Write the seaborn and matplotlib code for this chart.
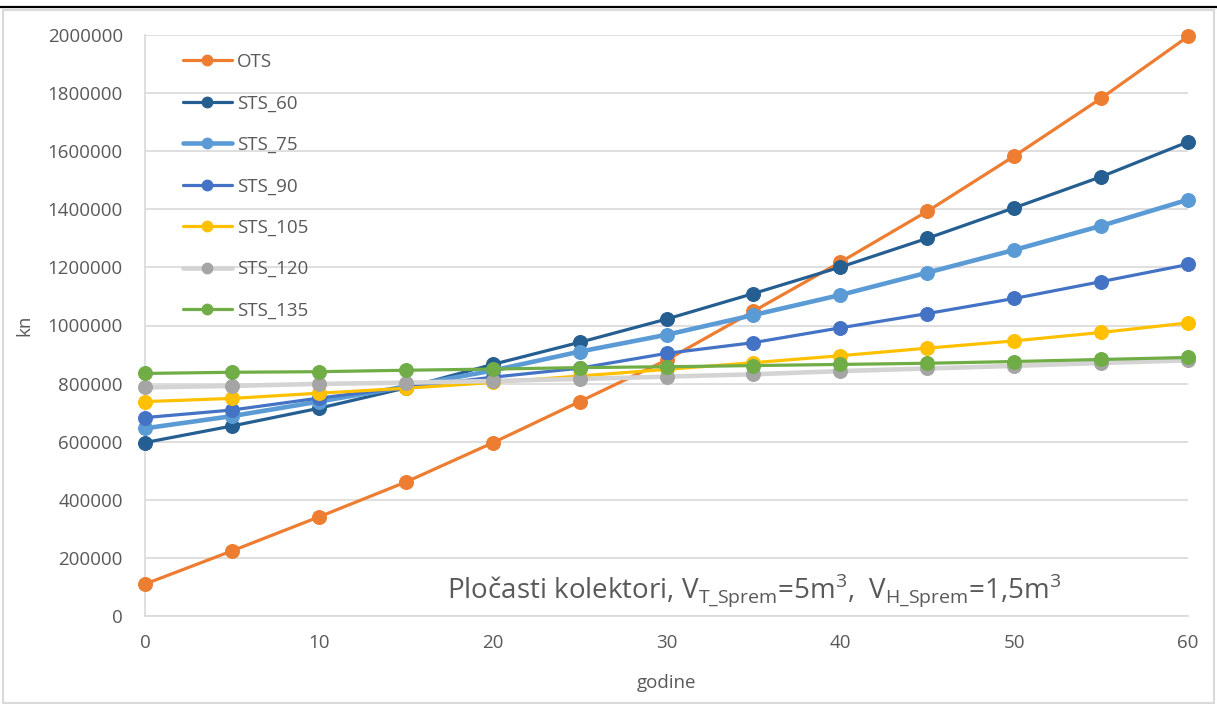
import matplotlib
matplotlib.use("Agg")
import matplotlib.pyplot as plt
import seaborn as sns
import pandas as pd
from matplotlib.patches import Rectangle
from matplotlib.lines import Line2D

years = [0, 5, 10, 15, 20, 25, 30, 35, 40, 45, 50, 55, 60]
ots = [110000, 224000, 341000, 461000, 596000, 738000, 881000, 1049000, 1218000, 1393000, 1583000, 1782000, 1995000]
sts_60 = [597000, 654000, 715000, 785000, 866000, 942000, 1022000, 1110000, 1201000, 1300000, 1405000, 1512000, 1632000]
sts_75 = [646000, 688000, 738000, 790000, 845000, 910000, 968000, 1036000, 1105000, 1182000, 1260000, 1343000, 1433000]
sts_90 = [683000, 709000, 750000, 787000, 822000, 853000, 904000, 941000, 992000, 1041000, 1093000, 1151000, 1210000]
sts_105 = [738000, 749000, 767000, 784000, 804000, 826000, 849000, 872000, 896000, 922000, 947000, 976000, 1009000]
sts_120 = [787000, 792000, 799000, 803000, 809000, 816000, 824000, 832000, 843000, 852000, 861000, 871000, 880000]
sts_135 = [835000, 839000, 841000, 846000, 850000, 855000, 858000, 862000, 866000, 870000, 876000, 883000, 890000]

series_names = ["OTS", "STS_60", "STS_75", "STS_90", "STS_105", "STS_120", "STS_135"]
series_values = [ots, sts_60, sts_75, sts_90, sts_105, sts_120, sts_135]
y_ticks = [0, 200000, 400000, 600000, 800000, 1000000, 1200000, 1400000, 1600000, 1800000, 2000000]
x_ticks = [0, 10, 20, 30, 40, 50, 60]

line_colors = ["#ed7d31", "#255e91", "#5b9bd5", "#4472c4", "#ffc000", "#d4d4d4", "#70ad47"]
marker_colors = ["#ed7d31", "#255e91", "#5b9bd5", "#4472c4", "#ffc000", "#a5a5a5", "#70ad47"]
line_widths = [2.3, 2.3, 3.3, 2.3, 2.3, 3.3, 2.3]

sns.set_theme(style="white")
FONT = "Open Sans"
plt.rcParams["font.family"] = [FONT, "DejaVu Sans"]
plt.rcParams["mathtext.fontset"] = "custom"
plt.rcParams["mathtext.rm"] = FONT
TXT = "#595959"
GRID = "#d9d9d9"
FS = 13.5

fig = plt.figure(figsize=(12.17, 7.04), dpi=100)
W, H = 1217, 704
ax = fig.add_axes([145 / W, 1 - 616 / H, (1188 - 145) / W, (616 - 35) / H])

for name, vals, lc, mc, lw in zip(series_names, series_values, line_colors, marker_colors, line_widths):
    df = pd.DataFrame({"godine": years, "kn": vals})
    sns.lineplot(data=df, x="godine", y="kn", ax=ax, color=lc, linewidth=lw,
                 marker="o", markersize=10, markerfacecolor=mc, markeredgecolor=mc,
                 clip_on=False, label=name, zorder=3)

ax.set_xlim(0, 60)
ax.set_ylim(0, 2000000)
ax.set_xticks(x_ticks)
ax.set_yticks(y_ticks)
ax.set_yticklabels([str(v) for v in y_ticks])
ax.tick_params(axis="both", length=0, labelsize=FS, colors=TXT)
ax.tick_params(axis="y", pad=16)
ax.tick_params(axis="x", pad=13)
ax.grid(axis="y", color=GRID, linewidth=1.2)
ax.set_axisbelow(True)
for s in ["top", "right"]:
    ax.spines[s].set_visible(False)
for s in ["left", "bottom"]:
    ax.spines[s].set_color(GRID)
    ax.spines[s].set_linewidth(1.2)

ax.set_xlabel("godine", fontsize=FS, color=TXT, labelpad=16)
ax.set_ylabel("kn", fontsize=FS, color=TXT, labelpad=10)

handles = [Line2D([0], [0], color=lc, linewidth=lw, marker="o", markersize=7.5,
                  markerfacecolor=mc, markeredgecolor=mc)
           for lc, mc, lw in zip(line_colors, marker_colors, line_widths)]
leg = ax.legend(handles, series_names, loc="upper left", bbox_to_anchor=(0.0364, 0.969),
                frameon=False, fontsize=FS, handlelength=2.6, handletextpad=0.28,
                labelspacing=1.25, borderpad=0, borderaxespad=0)
for t in leg.get_texts():
    t.set_color(TXT)

ax.text(0.2896, 0.031,
        r"Pločasti kolektori, V$_{\mathregular{T\_Sprem}}$=5m$^{\mathregular{3}}$,  V$_{\mathregular{H\_Sprem}}$=1,5m$^{\mathregular{3}}$",
        transform=ax.transAxes, fontsize=20, color=TXT, ha="left", va="baseline")

# chart area border and document header rule
fig.add_artist(Rectangle((3 / W, 1 - 703 / H), (1214 - 3) / W, (703 - 10) / H,
                         transform=fig.transFigure, fill=False, edgecolor=GRID, linewidth=1.5))
fig.add_artist(Line2D([0, 1], [1 - 7 / H, 1 - 7 / H], transform=fig.transFigure,
                      color="black", linewidth=1.6))

fig.savefig("out.png", dpi=100)
